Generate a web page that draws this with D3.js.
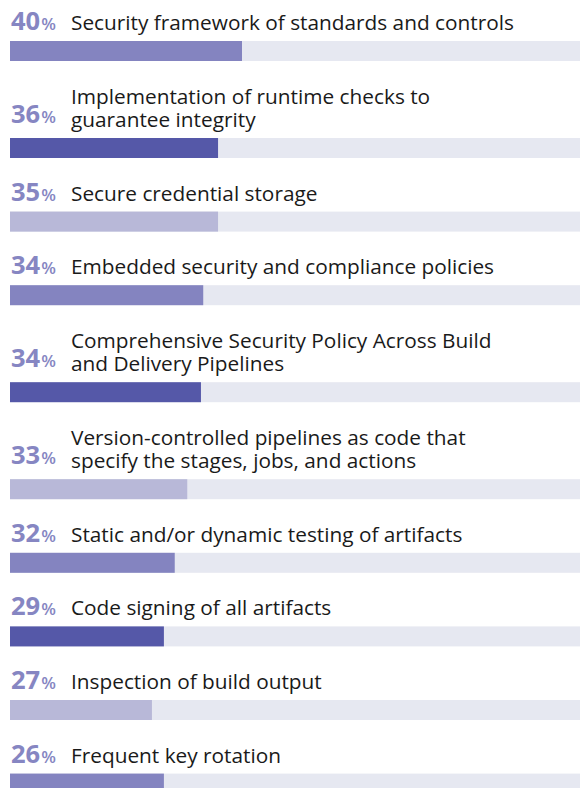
<!DOCTYPE html>
<html>
<head>
<meta charset="utf-8">
<script src="https://cdn.jsdelivr.net/npm/d3@7"></script>
<style>
  html, body { margin: 0; padding: 0; background: #ffffff; }
  svg { display: block; }
</style>
</head>
<body>
<svg id="chart" width="580" height="788"></svg>
<script>
// ---- data ----
const percentLabels = [40, 36, 35, 34, 34, 33, 32, 29, 27, 26];
const barValues = [40.7, 36.5, 36.5, 33.9, 33.5, 31.1, 28.9, 27.0, 24.9, 27.0];
const categoryLines = [
  ["Security framework of standards and controls"],
  ["Implementation of runtime checks to", "guarantee integrity"],
  ["Secure credential storage"],
  ["Embedded security and compliance policies"],
  ["Comprehensive Security Policy Across Build", "and Delivery Pipelines"],
  ["Version-controlled pipelines as code that", "specify the stages, jobs, and actions"],
  ["Static and/or dynamic testing of artifacts"],
  ["Code signing of all artifacts"],
  ["Inspection of build output"],
  ["Frequent key rotation"]
];
const barColors = ["#8484c0", "#5558a8", "#b8b8d8"];

// ---- layout ----
const W = 580, H = 788;
const trackX0 = 10, trackX1 = 580;
const barH = 20;
const firstBarTop = 41;
const singleStep = 73.6, lineH = 23.4;
const labelX = 71;
const fontFamily = "'Open Sans', 'Noto Sans', sans-serif";

const x = d3.scaleLinear().domain([0, 100]).range([trackX0, trackX1]);

// cumulative bar tops from line counts
const barTops = [];
categoryLines.forEach((lines, i) => {
  if (i === 0) barTops.push(firstBarTop);
  else barTops.push(barTops[i - 1] + singleStep + (lines.length - 1) * lineH);
});

const svg = d3.select("#chart");

const rows = svg.selectAll("g.row")
  .data(d3.range(percentLabels.length))
  .join("g")
  .attr("class", "row");

// track
rows.append("rect")
  .attr("x", x(0))
  .attr("y", i => barTops[i])
  .attr("width", x(100) - x(0))
  .attr("height", barH)
  .attr("fill", "#e6e8f1");

// bar
rows.append("rect")
  .attr("x", x(0))
  .attr("y", i => barTops[i])
  .attr("width", i => x(barValues[i]) - x(0))
  .attr("height", barH)
  .attr("fill", i => barColors[i % 3]);

// percent label
const pct = rows.append("text")
  .attr("x", 11)
  .attr("y", i => barTops[i] - 11 - (categoryLines[i].length - 1) * 4)
  .attr("font-family", fontFamily)
  .attr("fill", "#8686c2")
  .attr("font-weight", 700);
pct.append("tspan")
  .attr("font-size", 25.5)
  .text(i => percentLabels[i]);
pct.append("tspan")
  .attr("font-size", 17)
  .attr("font-weight", 600)
  .attr("dx", 1)
  .text("%");

// category label
rows.each(function(i) {
  const lines = categoryLines[i];
  const t = d3.select(this).append("text")
    .attr("font-family", fontFamily)
    .attr("font-size", 20.8)
    .attr("fill", "#1a1a1a");
  lines.forEach((ln, k) => {
    t.append("tspan")
      .attr("x", labelX)
      .attr("y", barTops[i] - 11 - (lines.length - 1 - k) * lineH)
      .text(ln);
  });
});
</script>
</body>
</html>
